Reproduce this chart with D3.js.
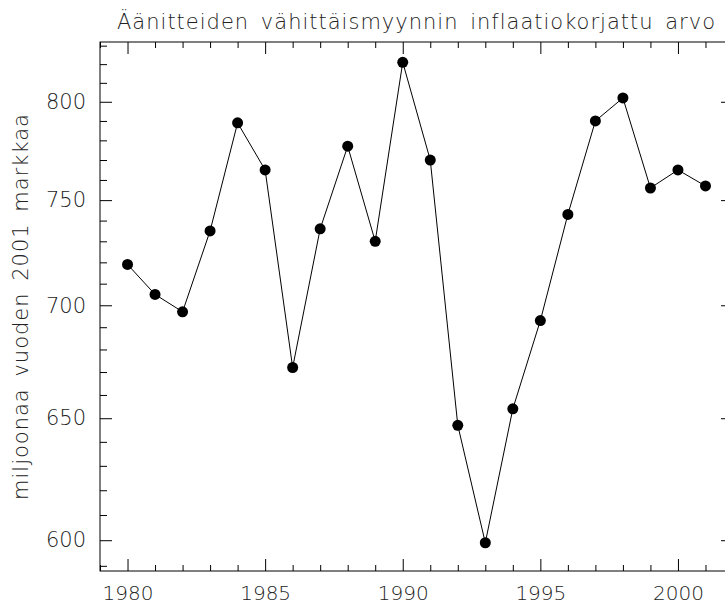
<!DOCTYPE html>
<html>
<head>
<meta charset="utf-8">
<script src="https://cdn.jsdelivr.net/npm/d3@7"></script>
<style>
  body { margin: 0; background: #fff; }
  text { font-family: "DejaVu Sans", sans-serif; font-weight: 200; fill: #222; }
</style>
</head>
<body>
<div id="chart"></div>
<script>
// data
const years = [1980, 1981, 1982, 1983, 1984, 1985, 1986, 1987, 1988, 1989, 1990,
               1991, 1992, 1993, 1994, 1995, 1996, 1997, 1998, 1999, 2000, 2001];
const values = [719, 705, 697, 735, 789, 765, 672, 736, 777, 730, 821,
                770, 647, 599, 654, 693, 743, 790, 802, 756, 765, 757];
const xMajor = [1980, 1985, 1990, 1995, 2000];
const yMajor = [600, 650, 700, 750, 800];
const title = 'Äänitteiden vähittäismyynnin inflaatiokorjattu arvo';
const yTitle = 'miljoonaa vuoden 2001 markkaa';

const data = years.map((y, i) => ({year: y, value: values[i]}));

const width = 725, height = 606;
const svg = d3.select('#chart')
    .append('svg')
    .attr('width', width)
    .attr('height', height);

// plot box (right side runs a bit off the page, like the original)
const box = {left: 100, right: 733, top: 42, bottom: 571};

const x = d3.scaleLinear()
    .domain([1979, 2002])
    .range([box.left, box.right]);

const y = d3.scaleLog()
    .domain([588, 832])
    .range([box.bottom, box.top]);

const xMinor = d3.range(1979, 2003).filter(d => !xMajor.includes(d));
const yMinor = d3.range(590, 840, 10).filter(d => !yMajor.includes(d));

// minor ticks first, no labels
svg.append('g').attr('transform', `translate(0, ${box.bottom})`)
    .call(d3.axisBottom(x).tickValues(xMinor).tickSize(-6).tickFormat(''));
svg.append('g').attr('transform', `translate(0, ${box.top})`)
    .call(d3.axisTop(x).tickValues(xMinor).tickSize(-6).tickFormat(''));
svg.append('g').attr('transform', `translate(${box.left}, 0)`)
    .call(d3.axisLeft(y).tickValues(yMinor).tickSize(-7).tickFormat(''));
svg.append('g').attr('transform', `translate(${box.right}, 0)`)
    .call(d3.axisRight(y).tickValues(yMinor).tickSize(-7).tickFormat(''));

// major ticks
const xAxis = svg.append('g').attr('class', 'axis_x')
    .attr('transform', `translate(0, ${box.bottom})`)
    .call(d3.axisBottom(x).tickValues(xMajor).tickSize(-12).tickPadding(15).tickFormat(d3.format('d')));
svg.append('g').attr('transform', `translate(0, ${box.top})`)
    .call(d3.axisTop(x).tickValues(xMajor).tickSize(-12).tickFormat(''));
const yAxis = svg.append('g').attr('class', 'axis_y')
    .attr('transform', `translate(${box.left}, 0)`)
    .call(d3.axisLeft(y).tickValues(yMajor).tickSize(-12).tickPadding(14).tickFormat(d3.format('d')));
svg.append('g').attr('transform', `translate(${box.right}, 0)`)
    .call(d3.axisRight(y).tickValues(yMajor).tickSize(-12).tickFormat(''));

svg.selectAll('.domain').remove();
svg.selectAll('.tick line').attr('stroke', '#000').attr('stroke-width', 1);
xAxis.selectAll('text').style('font-size', '20px').attr('fill', '#222');
yAxis.selectAll('text').style('font-size', '21px').attr('fill', '#222');

// frame
svg.append('rect')
    .attr('x', box.left)
    .attr('y', box.top)
    .attr('width', box.right - box.left)
    .attr('height', box.bottom - box.top)
    .attr('fill', 'none')
    .attr('stroke', '#000')
    .attr('stroke-width', 1);

// line + dots
const line = d3.line()
    .x(d => x(d.year))
    .y(d => y(d.value));

svg.append('path')
    .datum(data)
    .attr('d', line)
    .attr('fill', 'none')
    .attr('stroke', '#000')
    .attr('stroke-width', 1);

svg.selectAll('circle')
    .data(data)
    .enter()
    .append('circle')
    .attr('cx', d => x(d.year))
    .attr('cy', d => y(d.value))
    .attr('r', 5.5)
    .attr('fill', '#000');

// title
svg.append('text')
    .attr('x', (box.left + box.right) / 2)
    .attr('y', 29)
    .style('font-size', '21px')
    .style('letter-spacing', '1px')
    .style('word-spacing', '4px')
    .style('text-anchor', 'middle')
    .text(title);

// y label
svg.append('text')
    .attr('transform', `translate(28, ${(box.top + box.bottom) / 2}) rotate(-90)`)
    .style('font-size', '21px')
    .style('letter-spacing', '1px')
    .style('word-spacing', '4px')
    .style('text-anchor', 'middle')
    .text(yTitle);
</script>
</body>
</html>
